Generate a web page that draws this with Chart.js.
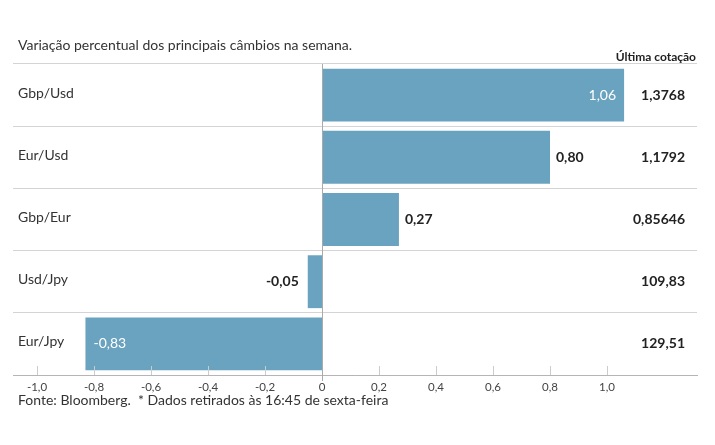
<!DOCTYPE html>
<html>
<head>
<meta charset="utf-8">
<script src="https://cdn.jsdelivr.net/npm/chart.js@4/dist/chart.umd.min.js"></script>
<style>
  html,body{margin:0;padding:0;background:#fff;}
  #wrap{position:relative;width:715px;height:445px;font-family:Lato,"Noto Sans",sans-serif;color:#333;}
  #title{position:absolute;left:18px;top:36px;font-size:14px;line-height:18px;}
  #foot{position:absolute;left:18px;top:391px;font-size:14px;line-height:18px;}
  canvas{position:absolute;left:0;top:0;}
</style>
</head>
<body>
<div id="wrap">
  <canvas id="c" width="715" height="445"></canvas>
  <div id="title">Variação percentual dos principais câmbios na semana.</div>
  <div id="foot">Fonte: Bloomberg.&nbsp; * Dados retirados às 16:45 de sexta-feira</div>
</div>
<script>
const categories = ['Gbp/Usd', 'Eur/Usd', 'Gbp/Eur', 'Usd/Jpy', 'Eur/Jpy'];
const variation = [1.06, 0.80, 0.27, -0.05, -0.83];
const lastQuote = ['1,3768', '1,1792', '0,85646', '109,83', '129,51'];
const quoteHeader = 'Última cotação';
const xTicks = [-1.0, -0.8, -0.6, -0.4, -0.2, 0, 0.2, 0.4, 0.6, 0.8, 1.0];

const FONT = 'Lato, "Noto Sans", sans-serif';
const fmt2 = v => v.toFixed(2).replace('.', ',');

const overlay = {
  id: 'overlay',
  afterDatasetsDraw(chart) {
    const ctx = chart.ctx;
    const area = chart.chartArea;
    const xs = chart.scales.x, ys = chart.scales.y;
    ctx.save();
    // tick marks upward from axis
    ctx.strokeStyle = '#cccccc';
    ctx.lineWidth = 1;
    xTicks.forEach(t => {
      const px = Math.round(xs.getPixelForValue(t)) + 0.5;
      ctx.beginPath();
      ctx.moveTo(px, area.bottom - 9);
      ctx.lineTo(px, area.bottom);
      ctx.stroke();
    });
    // zero line
    const z = Math.round(xs.getPixelForValue(0)) + 0.5;
    ctx.strokeStyle = '#aaaaaa';
    ctx.beginPath();
    ctx.moveTo(z, area.top);
    ctx.lineTo(z, area.bottom + 6);
    ctx.stroke();

    // category labels
    ctx.textBaseline = 'middle';
    ctx.font = '14px ' + FONT;
    ctx.fillStyle = '#333';
    ctx.textAlign = 'left';
    categories.forEach((c, i) => {
      ctx.fillText(c, 18, ys.getPixelForValue(i) - 2);
    });

    // value labels
    const meta = chart.getDatasetMeta(0);
    variation.forEach((v, i) => {
      const bar = meta.data[i];
      const y = bar.y;
      const inside = Math.abs(v) > 0.82;
      const txt = fmt2(v);
      if (inside) {
        ctx.font = '14px ' + FONT;
        ctx.fillStyle = '#ffffff';
        if (v >= 0) { ctx.textAlign = 'right'; ctx.fillText(txt, bar.x - 8, y); }
        else { ctx.textAlign = 'left'; ctx.fillText(txt, bar.x + 8, y); }
      } else {
        ctx.font = 'bold 14px ' + FONT;
        ctx.fillStyle = '#222';
        if (v >= 0) { ctx.textAlign = 'left'; ctx.fillText(txt, bar.x + 6, y); }
        else { ctx.textAlign = 'right'; ctx.fillText(txt, bar.x - 9, y); }
      }
    });

    // right column
    ctx.font = 'bold 14px ' + FONT;
    ctx.fillStyle = '#222';
    ctx.textAlign = 'right';
    lastQuote.forEach((q, i) => {
      ctx.fillText(q, 685, ys.getPixelForValue(i));
    });
    ctx.font = 'bold 12px ' + FONT;
    ctx.fillText(quoteHeader, 696, 57);
    ctx.restore();
  }
};

new Chart(document.getElementById('c'), {
  type: 'bar',
  data: {
    labels: categories,
    datasets: [{
      data: variation,
      backgroundColor: '#6aa3bf',
      borderWidth: 0,
      barPercentage: 0.85,
      categoryPercentage: 1.0
    }]
  },
  options: {
    indexAxis: 'y',
    responsive: false,
    animation: false,
    devicePixelRatio: 1,
    layout: { padding: { left: 13, right: 18, top: 64, bottom: 40 } },
    plugins: { legend: { display: false }, tooltip: { enabled: false } },
    scales: {
      x: {
        type: 'linear',
        min: -1.0842,
        max: 1.3158,
        afterBuildTicks: s => { s.ticks = xTicks.map(v => ({ value: v })); },
        afterFit: s => { s.height = 30; },
        grid: { display: false },
        border: { display: true, color: '#b5b5b5', width: 1 },
        ticks: {
          padding: -3,
          color: '#444',
          font: { family: FONT, size: 11.5 },
          callback: v => v === 0 ? '0' : v.toFixed(1).replace('.', ',')
        }
      },
      y: {
        afterFit: s => { s.width = 0; },
        ticks: { display: false },
        border: { display: false },
        grid: { offset: true, drawTicks: false, color: '#d4d4d4', lineWidth: 1 }
      }
    }
  },
  plugins: [overlay]
});
</script>
</body>
</html>
